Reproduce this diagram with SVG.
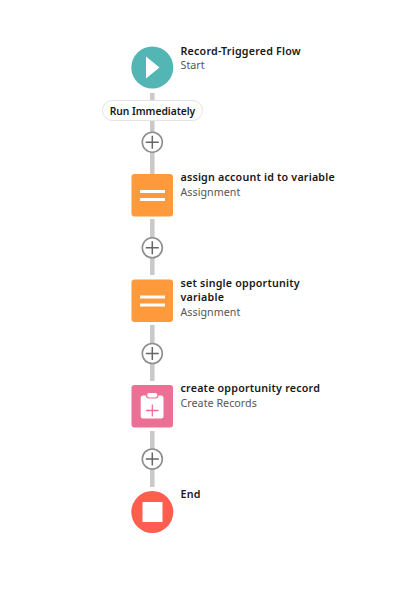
<svg xmlns="http://www.w3.org/2000/svg" width="417" height="608" viewBox="0 0 417 608">
<style>
text{font-family:"Noto Sans","Open Sans",sans-serif;font-size:10.7px}
.t{font-weight:600;fill:#181818;letter-spacing:.2px}
.s{fill:#555;letter-spacing:.04px}
.w{fill:#fff}
.line{fill:none;stroke:#c9c9c9;stroke-width:4.5}
.pc{fill:#fff;stroke:#8e8e8e;stroke-width:1.6}
.pp{fill:none;stroke:#666;stroke-width:1.5}
</style>
<rect width="417" height="608" fill="#fff"/>
<defs><g id="plus"><circle class="pc" r="10"/><path class="pp" d="M-6.500 0H6.500M0-6.500V6.500"/></g></defs>
<g id="connectors">
<path class="line" d="M152.300 93V174M152.300 219V275M152.300 325V381M152.300 431V487"/>
</g>
<g id="add-buttons">
<use href="#plus" x="152.300" y="142.200"/>
<use href="#plus" x="152.300" y="247.800"/>
<use href="#plus" x="152.300" y="353.500"/>
<use href="#plus" x="152.300" y="459"/>
</g>
<g id="start">
<circle cx="152.300" cy="67.500" r="21" fill="#54b5b5"/>
<path class="w" d="M146 56.500V78.500L159.500 67.500Z"/>
<text class="t" x="180.500" y="55">Record-Triggered Flow</text>
<text class="s" x="180.500" y="69">Start</text>
</g>
<g id="run-immediately">
<rect x="102.500" y="100.500" width="100" height="20" rx="10" fill="#fff" stroke="#e3e3e3"/>
<text class="t" x="152.500" y="115" text-anchor="middle" style="font-size:10.3px;letter-spacing:-.05px">Run Immediately</text>
</g>
<g id="assign">
<rect x="131.500" y="174" width="41.500" height="42.500" rx="3" fill="#fe9a3b"/>
<path class="w" d="M140 190h25v3h-25zM140 198h25v3h-25z"/>
<text class="t" x="180.500" y="181">assign account id to variable</text>
<text class="s" x="180.500" y="196">Assignment</text>
</g>
<g id="set">
<rect x="131.500" y="279.500" width="41.500" height="42.500" rx="3" fill="#fe9a3b"/>
<path class="w" d="M140 295.500h25v3h-25zM140 303.500h25v3h-25z"/>
<text class="t" x="180.500" y="287">set single opportunity</text>
<text class="t" x="180.500" y="301">variable</text>
<text class="s" x="180.500" y="316">Assignment</text>
</g>
<g id="create">
<rect x="131.500" y="385" width="41.500" height="42.500" rx="3" fill="#ec6f96"/>
<rect class="w" x="140.700" y="395.500" width="22.800" height="23" rx="2.500"/>
<rect x="146.500" y="392.500" width="11.500" height="5.500" rx="2.700" fill="#fff" stroke="#ec6f96" stroke-width="1.200"/>
<path d="M146 410.500H158.500M152.300 404.500V416.500" fill="none" stroke="#ec6f96" stroke-width="1.300"/>
<text class="t" x="180.500" y="392">create opportunity record</text>
<text class="s" x="180.500" y="407">Create Records</text>
</g>
<g id="end">
<circle cx="152.300" cy="512" r="21" fill="#ff5d4d"/>
<rect class="w" x="142.500" y="502" width="20" height="20"/>
<text class="t" x="180.500" y="498">End</text>
</g>
</svg>
